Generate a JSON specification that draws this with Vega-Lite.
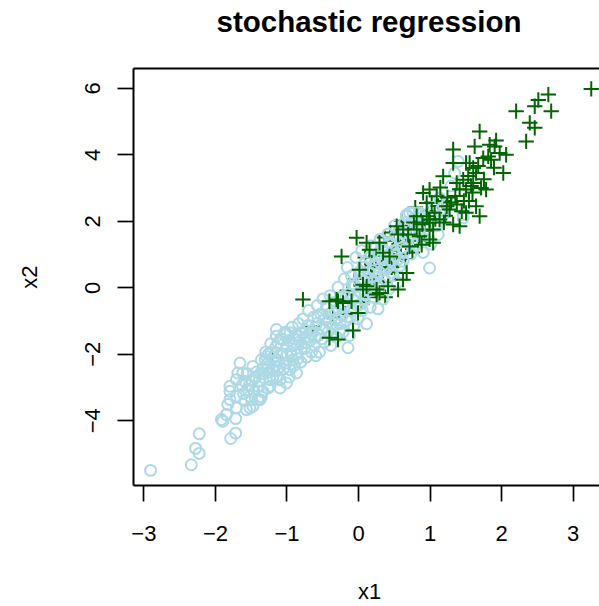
{
"$schema": "https://vega.github.io/schema/vega-lite/v6.json",
"autosize": {"type": "none"},
"width": 466, "height": 417,
"padding": {"left": 133, "top": 68, "right": 0, "bottom": 121},
"background": "white",
"view": {"stroke": null},
"title": {"text": "stochastic regression", "font": "Liberation Sans", "fontSize": 29.5, "fontWeight": "bold", "color": "black", "anchor": "middle", "dx": 3, "baseline": "alphabetic", "offset": 7},
"data": {"values": [
{"x1":-0.77,"x2":-0.37,"type":"imp"},{"x1":-1.19,"x2":-2.12,"type":"imp"},{"x1":-0.63,"x2":-1.17,"type":"imp"},
{"x1":0.10,"x2":0.90,"type":"imp"},{"x1":0.18,"x2":0.35,"type":"imp"},{"x1":0.33,"x2":0.60,"type":"imp"},{"x1":0.37,"x2":1.50,"type":"imp"},{"x1":0.45,"x2":1.65,"type":"imp"},{"x1":0.58,"x2":1.25,"type":"imp"},{"x1":0.61,"x2":2.00,"type":"imp"},{"x1":0.67,"x2":1.35,"type":"imp"},{"x1":0.74,"x2":1.85,"type":"imp"},{"x1":0.76,"x2":1.05,"type":"imp"},
{"x1":0.80,"x2":2.40,"type":"imp"},{"x1":0.84,"x2":1.40,"type":"imp"},{"x1":0.88,"x2":2.00,"type":"imp"},{"x1":0.93,"x2":1.70,"type":"imp"},{"x1":0.98,"x2":2.30,"type":"imp"},{"x1":1.03,"x2":2.55,"type":"imp"},{"x1":1.08,"x2":2.05,"type":"imp"},{"x1":1.12,"x2":2.45,"type":"imp"},{"x1":1.18,"x2":2.60,"type":"imp"},{"x1":1.22,"x2":2.15,"type":"imp"},
{"x1":-0.15,"x2":-0.10,"type":"imp"},{"x1":-0.05,"x2":0.25,"type":"imp"},{"x1":0.05,"x2":-0.45,"type":"imp"},{"x1":0.15,"x2":-0.30,"type":"imp"},{"x1":0.22,"x2":0.20,"type":"imp"},{"x1":0.35,"x2":0.15,"type":"imp"},{"x1":0.47,"x2":0.60,"type":"imp"},{"x1":0.55,"x2":0.85,"type":"imp"},{"x1":-0.35,"x2":-0.90,"type":"imp"},{"x1":-0.18,"x2":-0.80,"type":"imp"},{"x1":0.38,"x2":-0.30,"type":"imp"},
{"x1":0.40,"x2":0.60,"type":"imp"},{"x1":0.48,"x2":1.10,"type":"imp"},{"x1":0.52,"x2":0.45,"type":"imp"},{"x1":0.60,"x2":1.00,"type":"imp"},{"x1":0.66,"x2":0.85,"type":"imp"},{"x1":0.50,"x2":1.40,"type":"imp"},{"x1":0.20,"x2":0.65,"type":"imp"},{"x1":0.25,"x2":0.95,"type":"imp"},
{"x1":-2.90,"x2":-5.51,"type":"obs"},{"x1":-2.33,"x2":-5.34,"type":"obs"},{"x1":-2.27,"x2":-4.85,"type":"obs"},{"x1":-2.22,"x2":-5.00,"type":"obs"},{"x1":-2.22,"x2":-4.41,"type":"obs"},{"x1":-1.78,"x2":-4.55,"type":"obs"},{"x1":-1.71,"x2":-4.39,"type":"obs"},{"x1":-1.89,"x2":-4.03,"type":"obs"},{"x1":-1.84,"x2":-3.83,"type":"obs"},{"x1":-1.71,"x2":-3.95,"type":"obs"},
{"x1":-1.82,"x2":-3.53,"type":"obs"},{"x1":-1.79,"x2":-3.38,"type":"obs"},{"x1":-1.79,"x2":-3.13,"type":"obs"},{"x1":-1.79,"x2":-2.98,"type":"obs"},{"x1":-1.70,"x2":-3.63,"type":"obs"},{"x1":-1.65,"x2":-2.28,"type":"obs"},{"x1":-1.68,"x2":-2.58,"type":"obs"},{"x1":-1.58,"x2":-2.83,"type":"obs"},{"x1":-1.54,"x2":-3.08,"type":"obs"},{"x1":-1.49,"x2":-3.38,"type":"obs"},
{"x1":-1.51,"x2":-3.63,"type":"obs"},{"x1":-1.47,"x2":-2.38,"type":"obs"},{"x1":-1.44,"x2":-2.73,"type":"obs"},{"x1":-1.40,"x2":-2.98,"type":"obs"},{"x1":-1.37,"x2":-3.38,"type":"obs"},{"x1":-1.30,"x2":-2.18,"type":"obs"},{"x1":-1.28,"x2":-2.48,"type":"obs"},{"x1":-1.26,"x2":-3.03,"type":"obs"},{"x1":-1.23,"x2":-2.78,"type":"obs"},{"x1":-1.14,"x2":-1.27,"type":"obs"},
{"x1":-1.12,"x2":-1.67,"type":"obs"},{"x1":-1.14,"x2":-1.97,"type":"obs"},{"x1":-1.16,"x2":-2.38,"type":"obs"},{"x1":-1.14,"x2":-2.68,"type":"obs"},{"x1":-1.09,"x2":-3.03,"type":"obs"},{"x1":-1.00,"x2":-1.78,"type":"obs"},{"x1":-1.00,"x2":-2.28,"type":"obs"},{"x1":-1.00,"x2":-2.88,"type":"obs"},{"x1":-0.91,"x2":-2.18,"type":"obs"},{"x1":-0.86,"x2":-2.58,"type":"obs"},
{"x1":-0.95,"x2":-2.48,"type":"obs"},{"x1":-0.59,"x2":-2.06,"type":"obs"},{"x1":-0.14,"x2":-1.82,"type":"obs"},{"x1":-1.35,"x2":-2.18,"type":"obs"},{"x1":-1.28,"x2":-2.08,"type":"obs"},{"x1":-1.21,"x2":-1.97,"type":"obs"},{"x1":-1.16,"x2":-2.23,"type":"obs"},{"x1":-1.09,"x2":-2.78,"type":"obs"},{"x1":-1.23,"x2":-2.98,"type":"obs"},{"x1":-1.33,"x2":-3.13,"type":"obs"},
{"x1":-1.51,"x2":-3.28,"type":"obs"},{"x1":-1.47,"x2":-3.58,"type":"obs"},{"x1":-1.40,"x2":-3.38,"type":"obs"},{"x1":-1.56,"x2":-3.68,"type":"obs"},{"x1":-1.70,"x2":-2.78,"type":"obs"},{"x1":-1.61,"x2":-2.58,"type":"obs"},{"x1":-1.70,"x2":-3.28,"type":"obs"},{"x1":-1.14,"x2":-1.47,"type":"obs"},{"x1":-1.05,"x2":-1.57,"type":"obs"},{"x1":-0.95,"x2":-1.37,"type":"obs"},
{"x1":-0.82,"x2":-1.47,"type":"obs"},{"x1":-0.72,"x2":-1.67,"type":"obs"},{"x1":-1.62,"x2":-2.95,"type":"obs"},{"x1":-1.58,"x2":-3.40,"type":"obs"},{"x1":-1.55,"x2":-2.60,"type":"obs"},{"x1":-1.52,"x2":-2.95,"type":"obs"},{"x1":-1.45,"x2":-3.15,"type":"obs"},{"x1":-1.42,"x2":-2.55,"type":"obs"},{"x1":-1.38,"x2":-2.80,"type":"obs"},{"x1":-1.35,"x2":-3.30,"type":"obs"},
{"x1":-1.33,"x2":-2.45,"type":"obs"},{"x1":-1.91,"x2":-3.98,"type":"obs"},
{"x1":-1.32,"x2":-2.60,"type":"obs"},{"x1":-1.29,"x2":-1.95,"type":"obs"},{"x1":-1.27,"x2":-2.30,"type":"obs"},{"x1":-1.24,"x2":-2.55,"type":"obs"},{"x1":-1.22,"x2":-1.70,"type":"obs"},{"x1":-1.20,"x2":-2.45,"type":"obs"},{"x1":-1.18,"x2":-2.10,"type":"obs"},{"x1":-1.15,"x2":-1.80,"type":"obs"},{"x1":-1.13,"x2":-2.50,"type":"obs"},{"x1":-1.11,"x2":-2.20,"type":"obs"},
{"x1":-1.08,"x2":-1.55,"type":"obs"},{"x1":-1.06,"x2":-2.00,"type":"obs"},{"x1":-1.04,"x2":-2.45,"type":"obs"},{"x1":-1.02,"x2":-1.35,"type":"obs"},{"x1":-0.99,"x2":-2.05,"type":"obs"},{"x1":-0.97,"x2":-1.60,"type":"obs"},{"x1":-0.96,"x2":-2.70,"type":"obs"},{"x1":-0.94,"x2":-1.95,"type":"obs"},
{"x1":-0.92,"x2":-1.20,"type":"obs"},{"x1":-0.90,"x2":-1.75,"type":"obs"},{"x1":-0.89,"x2":-2.35,"type":"obs"},{"x1":-0.87,"x2":-1.45,"type":"obs"},{"x1":-0.85,"x2":-2.00,"type":"obs"},{"x1":-0.83,"x2":-1.10,"type":"obs"},{"x1":-0.82,"x2":-1.65,"type":"obs"},{"x1":-0.80,"x2":-2.25,"type":"obs"},{"x1":-0.78,"x2":-1.35,"type":"obs"},{"x1":-0.77,"x2":-0.95,"type":"obs"},
{"x1":-0.75,"x2":-1.85,"type":"obs"},{"x1":-0.74,"x2":-1.50,"type":"obs"},{"x1":-0.72,"x2":-2.10,"type":"obs"},{"x1":-0.70,"x2":-1.15,"type":"obs"},{"x1":-0.69,"x2":-0.70,"type":"obs"},{"x1":-0.67,"x2":-1.60,"type":"obs"},{"x1":-0.65,"x2":-1.95,"type":"obs"},{"x1":-0.64,"x2":-1.30,"type":"obs"},{"x1":-0.62,"x2":-0.90,"type":"obs"},{"x1":-0.61,"x2":-1.75,"type":"obs"},
{"x1":-0.58,"x2":-1.10,"type":"obs"},{"x1":-0.57,"x2":-0.55,"type":"obs"},{"x1":-0.55,"x2":-1.45,"type":"obs"},{"x1":-0.54,"x2":-1.95,"type":"obs"},{"x1":-0.52,"x2":-0.80,"type":"obs"},{"x1":-0.50,"x2":-1.25,"type":"obs"},{"x1":-0.49,"x2":-0.35,"type":"obs"},{"x1":-0.47,"x2":-1.65,"type":"obs"},{"x1":-0.46,"x2":-0.95,"type":"obs"},{"x1":-0.44,"x2":-0.60,"type":"obs"},
{"x1":-0.42,"x2":-1.35,"type":"obs"},{"x1":-0.41,"x2":-1.05,"type":"obs"},{"x1":-0.39,"x2":-0.25,"type":"obs"},{"x1":-0.38,"x2":-1.75,"type":"obs"},{"x1":-0.36,"x2":-0.75,"type":"obs"},{"x1":-0.35,"x2":-1.20,"type":"obs"},{"x1":-0.33,"x2":-0.45,"type":"obs"},{"x1":-0.31,"x2":-0.95,"type":"obs"},{"x1":-0.30,"x2":-1.50,"type":"obs"},{"x1":-0.28,"x2":0.00,"type":"obs"},
{"x1":-0.27,"x2":-0.65,"type":"obs"},{"x1":-0.25,"x2":-1.10,"type":"obs"},{"x1":-0.24,"x2":-0.30,"type":"obs"},{"x1":-0.22,"x2":-0.85,"type":"obs"},{"x1":-0.21,"x2":-1.35,"type":"obs"},
{"x1":-0.19,"x2":0.25,"type":"obs"},{"x1":-0.18,"x2":-0.55,"type":"obs"},{"x1":-0.16,"x2":-1.00,"type":"obs"},{"x1":-0.15,"x2":0.60,"type":"obs"},{"x1":-0.13,"x2":-0.20,"type":"obs"},{"x1":-0.12,"x2":-1.45,"type":"obs"},{"x1":-0.10,"x2":-0.70,"type":"obs"},{"x1":-0.09,"x2":0.35,"type":"obs"},{"x1":-0.07,"x2":-0.35,"type":"obs"},{"x1":-0.06,"x2":-1.15,"type":"obs"},
{"x1":-0.04,"x2":0.05,"type":"obs"},{"x1":-0.03,"x2":0.90,"type":"obs"},{"x1":-0.01,"x2":-0.55,"type":"obs"},{"x1":0.00,"x2":-0.95,"type":"obs"},{"x1":0.02,"x2":0.45,"type":"obs"},{"x1":0.03,"x2":-0.15,"type":"obs"},{"x1":0.05,"x2":1.10,"type":"obs"},{"x1":0.06,"x2":-0.70,"type":"obs"},{"x1":0.08,"x2":0.20,"type":"obs"},{"x1":0.09,"x2":-0.40,"type":"obs"},
{"x1":0.11,"x2":0.75,"type":"obs"},{"x1":0.12,"x2":-1.10,"type":"obs"},{"x1":0.14,"x2":0.00,"type":"obs"},{"x1":0.15,"x2":0.45,"type":"obs"},{"x1":0.17,"x2":-0.60,"type":"obs"},{"x1":0.18,"x2":1.25,"type":"obs"},{"x1":0.20,"x2":0.15,"type":"obs"},
{"x1":0.22,"x2":-0.30,"type":"obs"},{"x1":0.23,"x2":0.70,"type":"obs"},{"x1":0.25,"x2":1.20,"type":"obs"},{"x1":0.27,"x2":0.05,"type":"obs"},{"x1":0.28,"x2":-0.65,"type":"obs"},{"x1":0.30,"x2":0.45,"type":"obs"},{"x1":0.31,"x2":1.45,"type":"obs"},{"x1":0.33,"x2":0.85,"type":"obs"},{"x1":0.35,"x2":-0.35,"type":"obs"},{"x1":0.36,"x2":0.25,"type":"obs"},
{"x1":0.38,"x2":1.05,"type":"obs"},{"x1":0.40,"x2":0.55,"type":"obs"},{"x1":0.42,"x2":1.60,"type":"obs"},{"x1":0.43,"x2":-0.05,"type":"obs"},{"x1":0.45,"x2":0.80,"type":"obs"},{"x1":0.47,"x2":1.30,"type":"obs"},{"x1":0.49,"x2":0.35,"type":"obs"},{"x1":0.51,"x2":1.85,"type":"obs"},{"x1":0.53,"x2":0.95,"type":"obs"},{"x1":0.55,"x2":0.15,"type":"obs"},
{"x1":0.57,"x2":1.50,"type":"obs"},{"x1":0.59,"x2":0.65,"type":"obs"},
{"x1":0.62,"x2":1.20,"type":"obs"},{"x1":0.63,"x2":0.78,"type":"obs"},{"x1":0.65,"x2":1.95,"type":"obs"},{"x1":0.68,"x2":2.14,"type":"obs"},{"x1":0.70,"x2":1.45,"type":"obs"},{"x1":0.72,"x2":2.24,"type":"obs"},{"x1":0.74,"x2":1.00,"type":"obs"},{"x1":0.77,"x2":2.04,"type":"obs"},{"x1":0.79,"x2":1.70,"type":"obs"},{"x1":0.81,"x2":1.30,"type":"obs"},
{"x1":0.84,"x2":2.19,"type":"obs"},{"x1":0.86,"x2":2.24,"type":"obs"},{"x1":0.88,"x2":1.55,"type":"obs"},{"x1":0.91,"x2":1.05,"type":"obs"},{"x1":0.94,"x2":1.90,"type":"obs"},{"x1":1.00,"x2":0.58,"type":"obs"},{"x1":1.02,"x2":1.30,"type":"obs"},
{"x1":1.05,"x2":2.40,"type":"obs"},{"x1":1.10,"x2":1.85,"type":"obs"},{"x1":1.12,"x2":1.59,"type":"obs"},{"x1":1.14,"x2":2.69,"type":"obs"},{"x1":1.20,"x2":2.20,"type":"obs"},{"x1":1.35,"x2":3.44,"type":"obs"},{"x1":1.40,"x2":3.79,"type":"obs"},{"x1":1.47,"x2":2.09,"type":"obs"},{"x1":1.30,"x2":3.05,"type":"obs"},{"x1":1.25,"x2":2.55,"type":"obs"},
{"x1":0.68,"x2":2.19,"type":"obs"},{"x1":0.77,"x2":2.24,"type":"obs"},{"x1":1.14,"x2":2.29,"type":"obs"},{"x1":1.47,"x2":2.19,"type":"obs"},
{"x1":-1.25,"x2":-2.00,"type":"obs"},{"x1":-1.10,"x2":-2.40,"type":"obs"},{"x1":-1.00,"x2":-1.40,"type":"obs"},{"x1":-0.93,"x2":-2.05,"type":"obs"},{"x1":-0.88,"x2":-1.55,"type":"obs"},{"x1":-0.84,"x2":-2.15,"type":"obs"},{"x1":-0.79,"x2":-1.70,"type":"obs"},{"x1":-0.73,"x2":-1.30,"type":"obs"},{"x1":-0.66,"x2":-1.40,"type":"obs"},{"x1":-0.60,"x2":-1.50,"type":"obs"},
{"x1":-0.56,"x2":-0.90,"type":"obs"},{"x1":-0.51,"x2":-1.55,"type":"obs"},{"x1":-0.45,"x2":-1.20,"type":"obs"},{"x1":-0.40,"x2":-0.80,"type":"obs"},{"x1":-0.37,"x2":-1.40,"type":"obs"},{"x1":-0.32,"x2":-0.70,"type":"obs"},{"x1":-0.26,"x2":-1.30,"type":"obs"},{"x1":-0.20,"x2":-0.60,"type":"obs"},{"x1":-0.17,"x2":-0.30,"type":"obs"},{"x1":-0.11,"x2":-0.90,"type":"obs"},
{"x1":-0.08,"x2":0.10,"type":"obs"},{"x1":-0.02,"x2":-0.30,"type":"obs"},{"x1":0.01,"x2":0.20,"type":"obs"},{"x1":0.04,"x2":-0.50,"type":"obs"},{"x1":0.07,"x2":0.60,"type":"obs"},{"x1":0.10,"x2":-0.20,"type":"obs"},{"x1":0.13,"x2":0.30,"type":"obs"},{"x1":0.16,"x2":0.90,"type":"obs"},{"x1":0.19,"x2":-0.10,"type":"obs"},{"x1":0.21,"x2":0.50,"type":"obs"},
{"x1":0.24,"x2":0.95,"type":"obs"},{"x1":0.26,"x2":0.30,"type":"obs"},{"x1":0.29,"x2":1.00,"type":"obs"},{"x1":0.32,"x2":0.10,"type":"obs"},{"x1":0.34,"x2":1.20,"type":"obs"},{"x1":0.37,"x2":0.60,"type":"obs"},{"x1":0.41,"x2":0.95,"type":"obs"},{"x1":0.44,"x2":1.35,"type":"obs"},{"x1":0.46,"x2":0.45,"type":"obs"},{"x1":0.50,"x2":1.10,"type":"obs"},
{"x1":0.52,"x2":1.55,"type":"obs"},{"x1":0.56,"x2":0.85,"type":"obs"},{"x1":0.58,"x2":1.75,"type":"obs"},{"x1":0.61,"x2":1.40,"type":"obs"},{"x1":0.64,"x2":1.05,"type":"obs"},{"x1":0.66,"x2":1.65,"type":"obs"},{"x1":0.71,"x2":1.85,"type":"obs"},{"x1":0.75,"x2":1.35,"type":"obs"},{"x1":0.80,"x2":1.95,"type":"obs"},{"x1":0.85,"x2":1.75,"type":"obs"},
{"x1":0.89,"x2":2.10,"type":"obs"},{"x1":0.93,"x2":1.45,"type":"obs"},{"x1":-1.60,"x2":-3.20,"type":"obs"},{"x1":-1.48,"x2":-2.80,"type":"obs"},{"x1":-1.36,"x2":-2.60,"type":"obs"},{"x1":-1.19,"x2":-2.70,"type":"obs"},
{"x1":3.26,"x2":5.97,"type":"imp"},{"x1":2.66,"x2":5.80,"type":"imp"},{"x1":2.70,"x2":5.30,"type":"imp"},{"x1":2.52,"x2":5.64,"type":"imp"},{"x1":2.47,"x2":5.45,"type":"imp"},{"x1":2.21,"x2":5.30,"type":"imp"},{"x1":2.40,"x2":4.95,"type":"imp"},{"x1":2.47,"x2":4.80,"type":"imp"},{"x1":2.35,"x2":4.39,"type":"imp"},
{"x1":1.70,"x2":4.69,"type":"imp"},{"x1":1.63,"x2":4.24,"type":"imp"},{"x1":1.33,"x2":4.15,"type":"imp"},{"x1":1.93,"x2":4.42,"type":"imp"},{"x1":1.91,"x2":4.24,"type":"imp"},{"x1":2.07,"x2":3.99,"type":"imp"},{"x1":2.03,"x2":3.44,"type":"imp"},{"x1":1.56,"x2":3.74,"type":"imp"},{"x1":1.75,"x2":3.89,"type":"imp"},{"x1":1.82,"x2":3.94,"type":"imp"},{"x1":1.86,"x2":3.84,"type":"imp"},
{"x1":1.84,"x2":4.29,"type":"imp"},{"x1":1.98,"x2":4.04,"type":"imp"},{"x1":1.33,"x2":3.74,"type":"imp"},{"x1":1.51,"x2":3.74,"type":"imp"},{"x1":1.61,"x2":3.59,"type":"imp"},{"x1":1.65,"x2":3.44,"type":"imp"},{"x1":1.19,"x2":3.34,"type":"imp"},{"x1":1.38,"x2":3.14,"type":"imp"},{"x1":1.47,"x2":3.24,"type":"imp"},{"x1":1.51,"x2":2.94,"type":"imp"},
{"x1":1.61,"x2":3.14,"type":"imp"},{"x1":1.72,"x2":2.99,"type":"imp"},{"x1":1.79,"x2":2.94,"type":"imp"},{"x1":0.91,"x2":2.84,"type":"imp"},{"x1":1.00,"x2":2.94,"type":"imp"},{"x1":1.10,"x2":2.74,"type":"imp"},{"x1":0.96,"x2":2.54,"type":"imp"},{"x1":1.24,"x2":2.44,"type":"imp"},{"x1":1.28,"x2":2.34,"type":"imp"},{"x1":1.38,"x2":2.49,"type":"imp"},
{"x1":1.45,"x2":2.29,"type":"imp"},{"x1":1.51,"x2":2.24,"type":"imp"},{"x1":1.65,"x2":2.44,"type":"imp"},{"x1":1.70,"x2":2.14,"type":"imp"},{"x1":0.82,"x2":2.14,"type":"imp"},{"x1":1.00,"x2":2.04,"type":"imp"},{"x1":1.14,"x2":2.04,"type":"imp"},{"x1":1.33,"x2":1.89,"type":"imp"},{"x1":1.42,"x2":1.84,"type":"imp"},{"x1":1.05,"x2":1.74,"type":"imp"},
{"x1":0.86,"x2":1.54,"type":"imp"},{"x1":1.05,"x2":1.34,"type":"imp"},{"x1":-0.23,"x2":0.93,"type":"imp"},{"x1":-0.02,"x2":1.49,"type":"imp"},{"x1":0.30,"x2":1.34,"type":"imp"},{"x1":0.42,"x2":0.03,"type":"imp"},{"x1":0.56,"x2":-0.07,"type":"imp"},{"x1":0.26,"x2":-0.07,"type":"imp"},{"x1":0.30,"x2":-0.17,"type":"imp"},{"x1":0.07,"x2":0.08,"type":"imp"},
{"x1":-0.30,"x2":-0.37,"type":"imp"},{"x1":-0.21,"x2":-0.47,"type":"imp"},{"x1":-0.09,"x2":-0.42,"type":"imp"},{"x1":0.68,"x2":0.43,"type":"imp"},{"x1":0.63,"x2":0.23,"type":"imp"},{"x1":1.00,"x2":1.44,"type":"imp"},{"x1":0.70,"x2":1.59,"type":"imp"},{"x1":0.82,"x2":1.74,"type":"imp"},{"x1":0.72,"x2":1.23,"type":"imp"},{"x1":0.89,"x2":1.28,"type":"imp"},
{"x1":0.63,"x2":1.74,"type":"imp"},{"x1":0.96,"x2":2.14,"type":"imp"},{"x1":1.00,"x2":1.94,"type":"imp"},{"x1":1.07,"x2":2.24,"type":"imp"},{"x1":0.54,"x2":1.84,"type":"imp"},{"x1":0.56,"x2":1.59,"type":"imp"},{"x1":0.35,"x2":1.04,"type":"imp"},{"x1":0.44,"x2":0.93,"type":"imp"},{"x1":0.12,"x2":1.34,"type":"imp"},{"x1":0.16,"x2":1.13,"type":"imp"},
{"x1":0.02,"x2":0.53,"type":"imp"},{"x1":-0.40,"x2":-0.42,"type":"imp"},{"x1":-0.28,"x2":-0.42,"type":"imp"},{"x1":0.07,"x2":-0.07,"type":"imp"},{"x1":0.12,"x2":0.03,"type":"imp"},{"x1":0.26,"x2":-0.22,"type":"imp"},{"x1":-0.40,"x2":-1.52,"type":"imp"},{"x1":-0.28,"x2":-1.57,"type":"imp"},{"x1":-0.07,"x2":-1.30,"type":"imp"},
{"x1":0.00,"x2":-0.77,"type":"imp"},{"x1":0.78,"x2":1.95,"type":"imp"},{"x1":0.90,"x2":1.90,"type":"imp"},
{"x1":1.20,"x2":1.95,"type":"imp"},{"x1":1.25,"x2":2.70,"type":"imp"},{"x1":1.55,"x2":2.60,"type":"imp"},{"x1":1.58,"x2":3.05,"type":"imp"},{"x1":1.15,"x2":3.00,"type":"imp"},
{"x1":1.30,"x2":2.55,"type":"imp"},{"x1":1.36,"x2":2.75,"type":"imp"},{"x1":1.42,"x2":2.95,"type":"imp"},{"x1":1.48,"x2":2.60,"type":"imp"},{"x1":1.54,"x2":3.35,"type":"imp"},{"x1":1.60,"x2":2.85,"type":"imp"},{"x1":1.68,"x2":3.65,"type":"imp"},{"x1":1.76,"x2":3.25,"type":"imp"},{"x1":1.90,"x2":3.60,"type":"imp"}
]},
"resolve": {"axis": {"x": "independent"}},
"layer": [
{
"mark": {"type": "point", "filled": false, "strokeWidth": 2, "size": 120, "opacity": 1},
"encoding": {
"x": {"field": "x1", "type": "quantitative",
 "scale": {"domain": [-3.145, 3.368], "nice": false, "zero": false},
 "axis": {"orient": "bottom", "values": [-3, -2, -1, 0, 1, 2, 3], "grid": false,
  "labelFont": "Liberation Sans", "labelFontSize": 22, "labelColor": "black", "labelBaseline": "alphabetic", "labelPadding": 39,
  "tickColor": "black", "tickSize": 16, "tickWidth": 1.7, "domainColor": "black", "domainWidth": 2,
  "title": "x1", "titleFont": "Liberation Sans", "titleFontSize": 22, "titleFontWeight": "normal", "titleColor": "black",
  "titleBaseline": "alphabetic", "titleX": 236, "titleY": 113, "titleAlign": "center"}},
"y": {"field": "x2", "type": "quantitative",
 "scale": {"domain": [-5.95, 6.6], "nice": false, "zero": false},
 "axis": {"values": [-4, -2, 0, 2, 4, 6], "grid": false,
  "labelFont": "Liberation Sans", "labelFontSize": 22, "labelColor": "black", "labelAngle": 270, "labelAlign": "center", "labelBaseline": "alphabetic", "labelPadding": 18,
  "tickColor": "black", "tickSize": 16, "tickWidth": 1.7, "domainColor": "black", "domainWidth": 2,
  "title": "x2", "titleFont": "Liberation Sans", "titleFontSize": 22, "titleFontWeight": "normal", "titleColor": "black",
  "titleAngle": 270, "titleBaseline": "alphabetic", "titleAlign": "center", "titleX": -96.5, "titleY": 208.5}},
"shape": {"field": "type", "type": "nominal", "scale": {"domain": ["imp", "obs"], "range": ["M-1.4,0H1.4M0,-1.4V1.4", "circle"]}, "legend": null},
"stroke": {"field": "type", "type": "nominal", "scale": {"domain": ["imp", "obs"], "range": ["#006400", "#ADD8E6"]}, "legend": null}
}
},
{
"mark": {"type": "point", "opacity": 0},
"encoding": {
"x": {"field": "x1", "type": "quantitative",
 "axis": {"orient": "top", "labels": false, "ticks": false, "grid": false, "domainColor": "black", "domainWidth": 2, "title": null}}
}
}
]
}
